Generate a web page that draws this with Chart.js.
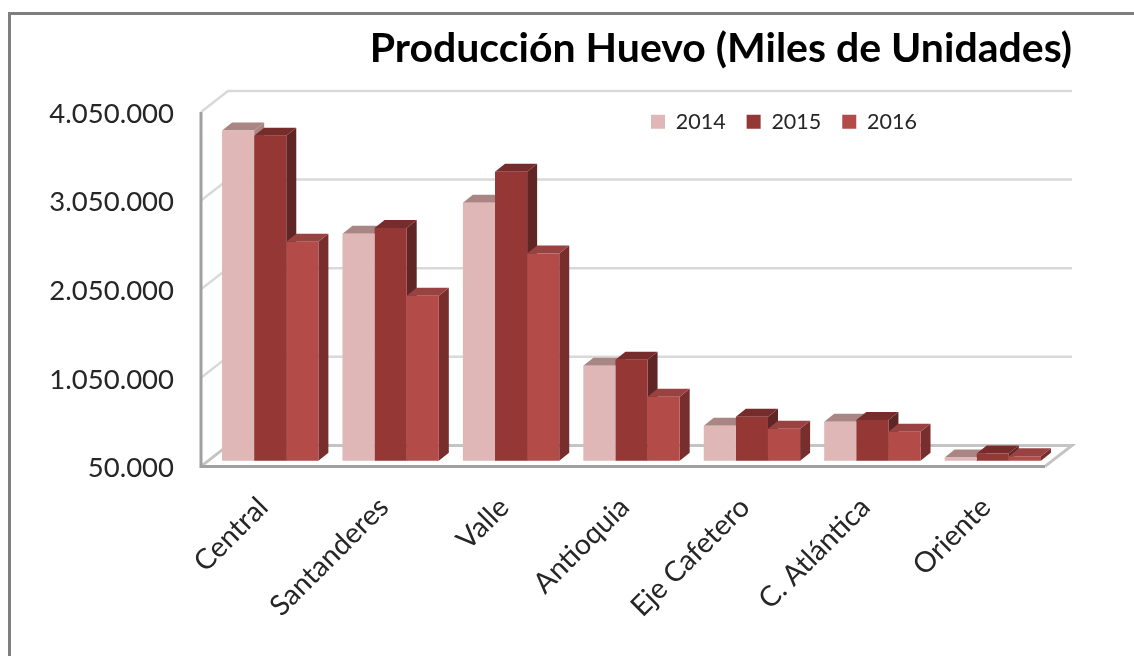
<!DOCTYPE html>
<html>
<head>
<meta charset="utf-8">
<script src="https://cdn.jsdelivr.net/npm/chart.js@4"></script>
<style>
  html, body { margin: 0; padding: 0; background: #fff; overflow: hidden; }
  #frame { position: absolute; left: 8px; top: 12px; width: 1300px; height: 800px; border: 3px solid #7f7f7f; }
  #wrap { position: absolute; left: 0; top: 0; width: 1134px; height: 656px; }
</style>
</head>
<body>
<div id="frame"></div>
<div id="wrap"><canvas id="grafico" width="1134" height="656"></canvas></div>
<script>
const categories = ["Central", "Santanderes", "Valle", "Antioquia", "Eje Cafetero", "C. Atlántica", "Oriente"]
const serie2014 = [3780000, 2615000, 2965000, 1123000, 445000, 490000, 85000]
const serie2015 = [3720000, 2680000, 3315000, 1190000, 547000, 510000, 130000]
const serie2016 = [2525000, 1914000, 2390000, 773000, 410000, 378000, 100000]
const seriesNames = ["2014", "2015", "2016"]
const frontColors = ["#dfb7b6", "#953735", "#b34c49"]
const topColors = ["#a98583", "#762c2a", "#984341"]
const sideColors = ["#a98583", "#5f2625", "#772e2d"]
const FONT = "Lato, Carlito, Calibri, sans-serif"

// 3D look: bar depth and wall depth, in pixels
const BAR_DX = 10, BAR_DY = 8
const WALL_DX = 27, WALL_DY = 21
const WALL_LEFT = 201, WALL_RIGHT = 1045
// tick labels sit this much lower than the wall line they belong to
const LABEL_DROP = 2

function face(ctx, pts, color) {
  ctx.fillStyle = color
  ctx.beginPath()
  pts.forEach((p, i) => (i ? ctx.lineTo(p[0], p[1]) : ctx.moveTo(p[0], p[1])))
  ctx.closePath()
  ctx.fill()
}

function line(ctx, pts, color, width) {
  ctx.strokeStyle = color
  ctx.lineWidth = width
  ctx.beginPath()
  pts.forEach((p, i) => (i ? ctx.lineTo(p[0], p[1]) : ctx.moveTo(p[0], p[1])))
  ctx.stroke()
}

// walls and floor behind the bars, then the side and top faces of each bar
const depthPlugin = {
  id: "depth",
  beforeLayout(chart) {
    // the legend floats inside the plot, it must not take room from it
    const legend = chart.legend
    if (!legend.fitOriginal) {
      legend.fitOriginal = legend.fit
      legend.fit = function () {
        this.fitOriginal()
        this.height = 0
      }
    }
  },
  afterLayout(chart) {
    chart.titleBlock.right = 1072
    const legend = chart.legend
    legend.left = 630
    legend.right = 960
    legend.top = 90
    legend.bottom = 150
  },
  beforeDatasetsDraw(chart) {
    const ctx = chart.ctx
    const wall = chart.scales.y
    ctx.save()
    wall.ticks.forEach((t) => {
      const y = wall.getPixelForValue(t.value) - LABEL_DROP
      if (t.value === wall.min) return
      line(ctx, [[WALL_LEFT, y], [WALL_LEFT + WALL_DX, y - WALL_DY], [WALL_RIGHT + WALL_DX, y - WALL_DY]], "#d9d9d9", 2.5)
    })
    const y0 = wall.getPixelForValue(wall.min) - LABEL_DROP
    line(ctx, [[WALL_LEFT, y0], [WALL_LEFT + WALL_DX, y0 - WALL_DY], [WALL_RIGHT + WALL_DX, y0 - WALL_DY], [WALL_RIGHT, y0]], "#c4c4c4", 3)
    line(ctx, [[WALL_LEFT, wall.top - LABEL_DROP], [WALL_LEFT, y0], [WALL_RIGHT, y0]], "#a0a0a0", 3)

    chart.data.datasets.forEach((ds, i) => {
      chart.getDatasetMeta(i).data.forEach((bar) => {
        const p = bar.getProps(["x", "y", "base", "width"], true)
        const l = p.x - p.width / 2, r = p.x + p.width / 2
        face(ctx, [[r, p.y], [r + BAR_DX, p.y - BAR_DY], [r + BAR_DX, p.base - BAR_DY], [r, p.base]], sideColors[i])
        face(ctx, [[l, p.y], [l + BAR_DX, p.y - BAR_DY], [r + BAR_DX, p.y - BAR_DY], [r, p.y]], topColors[i])
      })
    })
    ctx.restore()
  },
}

new Chart(document.getElementById("grafico"), {
  type: "bar",
  data: {
    labels: categories,
    datasets: [
      { label: seriesNames[0], data: serie2014, backgroundColor: frontColors[0], yAxisID: "barras", base: 50000 },
      { label: seriesNames[1], data: serie2015, backgroundColor: frontColors[1], yAxisID: "barras", base: 50000 },
      { label: seriesNames[2], data: serie2016, backgroundColor: frontColors[2], yAxisID: "barras", base: 50000 },
    ],
  },
  plugins: [depthPlugin],
  options: {
    responsive: false,
    animation: false,
    events: [],
    categoryPercentage: 0.8,
    barPercentage: 1,
    layout: { padding: { left: 0, right: 81, top: 0, bottom: 0 } },
    plugins: {
      tooltip: { enabled: false },
      title: {
        display: true,
        text: "Producción Huevo (Miles de Unidades)",
        align: "end",
        color: "#000",
        font: { family: FONT, size: 41, weight: "bold" },
        padding: { top: 24, bottom: 40.8 },
      },
      legend: {
        display: true,
        position: "top",
        align: "start",
        labels: {
          boxWidth: 14,
          boxHeight: 14,
          padding: 21,
          color: "#262626",
          font: { family: FONT, size: 21.5 },
        },
      },
    },
    scales: {
      x: {
        grid: { display: false },
        border: { display: false },
        ticks: {
          minRotation: 45,
          maxRotation: 45,
          autoSkip: false,
          padding: 14,
          labelOffset: -7,
          color: "#262626",
          font: { family: FONT, size: 28.5 },
        },
        afterFit(scale) { scale.height = 187.6 },
      },
      // front wall of the box: this axis carries the tick labels
      y: {
        position: "left",
        min: 50000,
        max: 4050000,
        afterBuildTicks(scale) {
          scale.ticks = [50000, 1050000, 2050000, 3050000, 4050000].map((v) => ({ value: v }))
        },
        grid: { display: false },
        border: { display: false },
        ticks: {
          padding: 28,
          color: "#262626",
          font: { family: FONT, size: 27.5 },
          callback: (v) => v.toLocaleString("de-DE"),
        },
        afterFit(scale) { scale.width = 210 },
      },
      // bars stand a bit inside the box, so their plane is shifted from the wall
      barras: {
        display: false,
        min: -37000,
        max: 3967000,
      },
    },
  },
})
</script>
</body>
</html>
